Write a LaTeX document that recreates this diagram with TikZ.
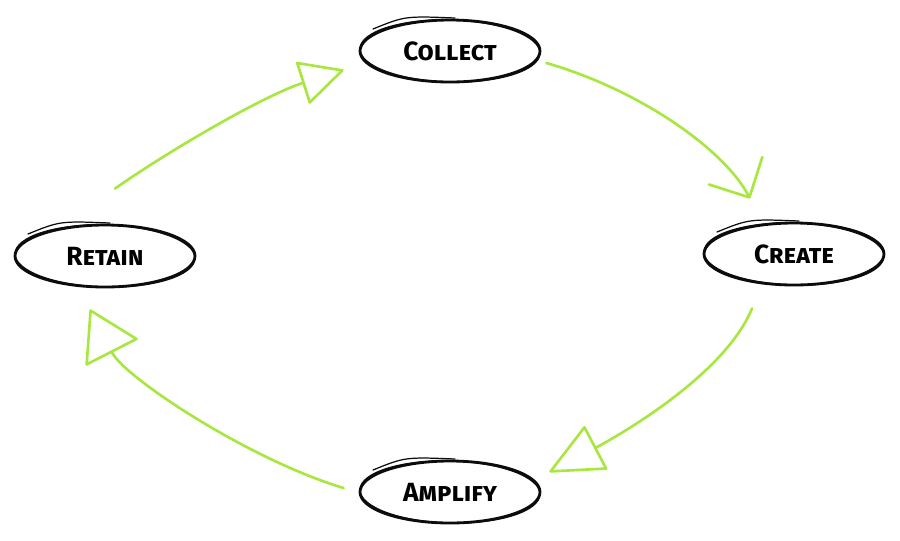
\documentclass[tikz,border=0pt]{standalone}
\usepackage{fontspec}
\setmainfont{Fira Sans}
\usetikzlibrary{shapes.geometric,arrows.meta}
\definecolor{ink}{RGB}{12,12,12}
\definecolor{lime}{RGB}{168,230,64}

\begin{document}
\begin{tikzpicture}[x=0.2mm,y=-0.2mm,
  stage/.style={ellipse,draw=ink,line width=1.6pt,minimum width=36mm,minimum height=12.4mm,inner sep=0pt,font=\fontsize{15}{18}\selectfont\bfseries\scshape},
  pencil/.style={draw=ink,line width=0.7pt,line cap=round},
  flow/.style={draw=lime,line width=1.5pt,line cap=round,line join=round}]
  \useasboundingbox (0,0) rectangle (900,540);
  \node[stage] at (450,51) (collect) {Collect};
  \node[stage] at (794,254) (create) {Create};
  \node[stage] at (450,492) (amplify) {Amplify};
  \node[stage] at (105,256) (retain) {Retain};
  % second pencil pass on each ellipse
  \foreach \n in {collect,create,amplify,retain}{
    \draw[pencil] ([shift={(-77,-22)}]\n.center) .. controls ([shift={(-45,-35)}]\n.center) .. ([shift={(5,-33)}]\n.center);
    \draw[pencil,rotate around={-1.5:(\n.center)}] (\n.center) ellipse (90 and 31);
  }
  % cycle
  \draw[flow,-{Triangle[open,round,length=9mm,width=9mm]}] ([shift={(10,-35)}]retain.north) .. controls (170,150) and (265,95) .. ([shift={(-15,19)}]collect.west);
  \draw[flow,-{Straight Barb[round,length=6mm,width=12mm]}] ([shift={(5,12)}]collect.east) .. controls (640,90) and (725,150) .. ([shift={(-44,-23)}]create.north);
  \draw[flow,-{Triangle[open,round,length=11mm,width=10mm]}] ([shift={(-42,22)}]create.south) .. controls (725,375) and (618,436) .. ([shift={(8,-20)}]amplify.east);
  \draw[flow,-{Triangle[open,round,length=10mm,width=12mm]}] ([shift={(-15,-4)}]amplify.west) .. controls (250,460) and (125,378) .. ([shift={(-15,21)}]retain.south);
\end{tikzpicture}
\end{document}
